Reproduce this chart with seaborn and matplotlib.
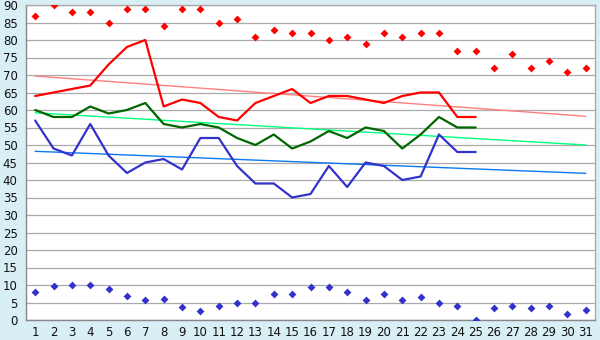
import matplotlib
matplotlib.use("Agg")
import matplotlib.pyplot as plt
import seaborn as sns
import pandas as pd

# ---- data ----
days_all = list(range(1, 32))
days_line = list(range(1, 26))
trend_days = [1, 31]

red_points = [87, 90, 88, 88, 85, 89, 89, 84, 89, 89, 85, 86, 81, 83, 82, 82,
              80, 81, 79, 82, 81, 82, 82, 77, 77, 72, 76, 72, 74, 71, 72]
blue_points = [8, 9.6, 10, 10, 9, 7, 5.6, 5.9, 3.6, 2.5, 3.9, 5, 4.8, 7.3, 7.3, 9.3,
               9.3, 7.9, 5.6, 7.3, 5.6, 6.5, 4.8, 3.9, 0, 3.3, 3.9, 3.3, 3.9, 1.6, 2.8]

red_line = [64, 65, 66, 67, 73, 78, 80, 61, 63, 62, 58, 57, 62, 64, 66, 62,
            64, 64, 63, 62, 64, 65, 65, 58, 58]
green_line = [60, 58, 58, 61, 59, 60, 62, 56, 55, 56, 55, 52, 50, 53, 49, 51,
              54, 52, 55, 54, 49, 53, 58, 55, 55]
blue_line = [57, 49, 47, 56, 47, 42, 45, 46, 43, 52, 52, 44, 39, 39, 35, 36,
             44, 38, 45, 44, 40, 41, 53, 48, 48]

red_trend = [69.7, 58.2]
green_trend = [59.2, 50.0]
blue_trend = [48.2, 41.9]

y_ticks = list(range(0, 95, 5))

# ---- style ----
bg = "#D9EFF6"
sns.set_theme(style="white")
plt.rcParams['font.family'] = ['DejaVu Sans']

fig = plt.figure(figsize=(6, 3.4), dpi=100, facecolor=bg)
ax = fig.add_axes([26 / 600, 20 / 340, 569 / 600, 315 / 340])
ax.set_facecolor("white")

# trend lines
sns.lineplot(x=trend_days, y=red_trend, ax=ax, color="#FF8080", lw=1.0)
sns.lineplot(x=trend_days, y=green_trend, ax=ax, color="#00FF80", lw=1.0)
sns.lineplot(x=trend_days, y=blue_trend, ax=ax, color="#0A78F0", lw=1.0)

# main lines
sns.lineplot(x=days_line, y=red_line, ax=ax, color="#FF0000", lw=1.6)
sns.lineplot(x=days_line, y=green_line, ax=ax, color="#006600", lw=1.6)
sns.lineplot(x=days_line, y=blue_line, ax=ax, color="#3333CC", lw=1.6)

# scatter points
sns.scatterplot(x=days_all, y=red_points, ax=ax, color="#FF0000", marker="D",
                s=16, linewidth=0, zorder=5)
sns.scatterplot(x=days_all, y=blue_points, ax=ax, color="#3333CC", marker="D",
                s=16, linewidth=0, zorder=5)

ax.set_xlim(0.5, 31.5)
ax.set_ylim(0, 90)
ax.set_xticks(days_all)
ax.set_xticklabels([str(d) for d in days_all])
ax.set_yticks(y_ticks)
ax.yaxis.grid(True, color="#AAAAAA", lw=0.9)
ax.set_axisbelow(True)
for sp in ax.spines.values():
    sp.set_color("#AAAAAA")
    sp.set_linewidth(1.0)
ax.spines['left'].set_color("#888888")
ax.spines['bottom'].set_color("#888888")
ax.tick_params(axis='both', which='both', direction='out', length=4, width=1,
               color="#333333", labelsize=8.5, labelcolor="#111111", pad=2)
ax.tick_params(axis='x', length=3, pad=1)

fig.savefig("out.png", dpi=100, facecolor=bg)
